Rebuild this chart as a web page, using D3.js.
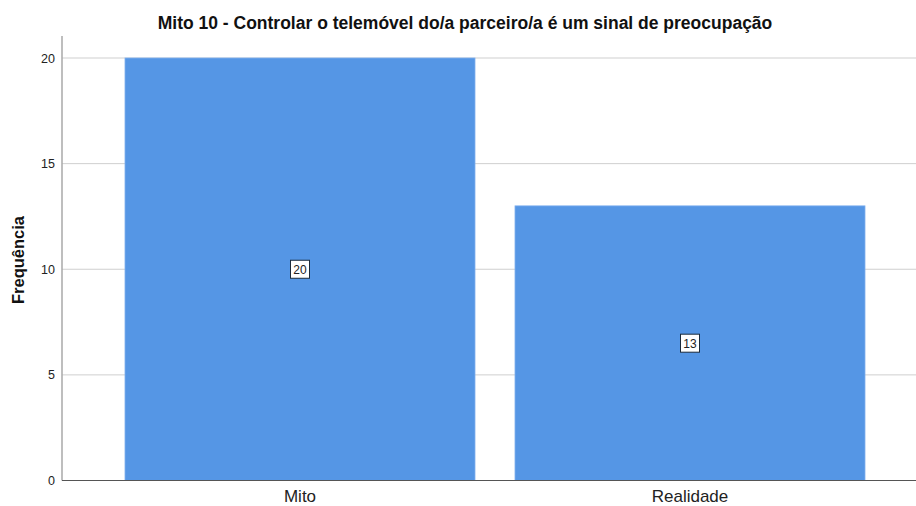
<!DOCTYPE html>
<html>
<head>
<meta charset="utf-8">
<script src="https://cdn.jsdelivr.net/npm/d3@7"></script>
<style>
  body { margin: 0; background: #fff; }
  text { font-family: "Liberation Sans", Arial, sans-serif; }
</style>
</head>
<body>
<svg id="Viz" width="916" height="506"></svg>
<script>
// data
var categories = ["Mito", "Realidade"];
var values = [20, 13];
var yTicks = [0, 5, 10, 15, 20];
var title = "Mito 10 - Controlar o telemóvel do/a parceiro/a é um sinal de preocupação";
var yTitle = "Frequência";

var svg = d3.select("#Viz"),
    width = +svg.attr("width"),
    height = +svg.attr("height");

var plotLeft = 62, plotRight = 916, plotTop = 36, plotBottom = 480.5;

var x = d3.scaleBand()
  .domain(categories)
  .range([105, 885])
  .paddingInner(40 / 390)
  .paddingOuter(20 / 390);

var y = d3.scaleLinear()
  .domain([0, 20])
  .range([plotBottom, 58]);

// gridlines
svg.append("g")
  .selectAll("line")
  .data(yTicks.filter(function(d) { return d > 0; }))
  .enter().append("line")
    .attr("x1", plotLeft)
    .attr("x2", plotRight)
    .attr("y1", function(d) { return y(d); })
    .attr("y2", function(d) { return y(d); })
    .attr("stroke", "#cfcfcf")
    .attr("stroke-width", 1);

// bars
svg.append("g")
  .selectAll("rect")
  .data(values)
  .enter().append("rect")
    .attr("x", function(d, i) { return x(categories[i]); })
    .attr("y", function(d) { return y(d); })
    .attr("width", x.bandwidth())
    .attr("height", function(d) { return y(0) - y(d); })
    .attr("fill", "#5596e5")
    .attr("stroke", "#7fb0ee")
    .attr("stroke-width", 0.8);

// value labels
var lab = svg.append("g")
  .selectAll("g")
  .data(values)
  .enter().append("g")
    .attr("transform", function(d, i) {
      return "translate(" + (x(categories[i]) + x.bandwidth() / 2) + "," + y(d / 2) + ")";
    });

lab.append("rect")
  .attr("x", -9.5)
  .attr("y", -9)
  .attr("width", 19)
  .attr("height", 18)
  .attr("fill", "#fff")
  .attr("stroke", "#1b2a3a")
  .attr("stroke-width", 1);

lab.append("text")
  .attr("text-anchor", "middle")
  .attr("dy", "0.36em")
  .attr("font-size", 12)
  .attr("fill", "#222")
  .text(function(d) { return d; });

// y axis
var yAxis = svg.append("g")
  .attr("transform", "translate(" + plotLeft + ",0)")
  .call(d3.axisLeft(y).tickValues(yTicks).tickSize(0).tickPadding(7));
yAxis.select(".domain").remove();
yAxis.selectAll("text")
  .attr("font-size", 12.5)
  .attr("font-family", "Liberation Sans, Arial, sans-serif")
  .attr("fill", "#222");

svg.append("line")
  .attr("x1", plotLeft).attr("x2", plotLeft)
  .attr("y1", plotTop).attr("y2", plotBottom)
  .attr("stroke", "#a8a8a8")
  .attr("stroke-width", 1.5);

// x axis
var xAxis = svg.append("g")
  .attr("transform", "translate(0," + plotBottom + ")")
  .call(d3.axisBottom(x).tickSize(0).tickPadding(9));
xAxis.select(".domain").remove();
xAxis.selectAll("text")
  .attr("font-size", 17)
  .attr("font-family", "Liberation Sans, Arial, sans-serif")
  .attr("fill", "#222");

svg.append("line")
  .attr("x1", plotLeft).attr("x2", plotRight)
  .attr("y1", plotBottom).attr("y2", plotBottom)
  .attr("stroke", "#555")
  .attr("stroke-width", 1.2);

// titles
svg.append("text")
  .attr("x", 465)
  .attr("y", 29)
  .attr("text-anchor", "middle")
  .attr("font-size", 17.5)
  .attr("font-weight", "bold")
  .attr("fill", "#111")
  .text(title);

svg.append("text")
  .attr("transform", "translate(24," + 260 + ") rotate(-90)")
  .attr("text-anchor", "middle")
  .attr("font-size", 16.5)
  .attr("font-weight", "bold")
  .attr("fill", "#111")
  .text(yTitle);
</script>
</body>
</html>
